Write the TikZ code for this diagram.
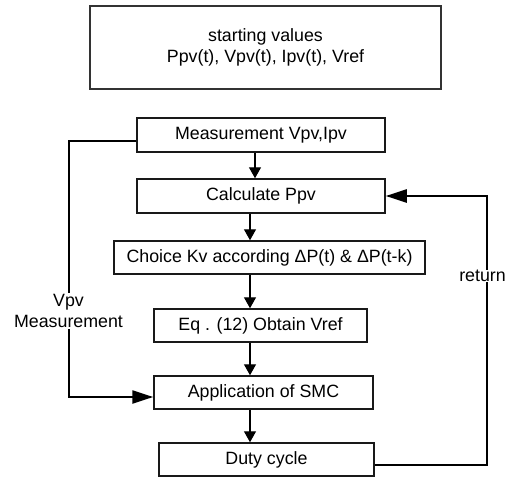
\documentclass[tikz,border=0pt]{standalone}
\usepackage{fontspec}
\setmainfont{Liberation Sans}
\usetikzlibrary{arrows.meta}
\begin{document}
\begin{tikzpicture}[x=1pt,y=-1pt,
  font=\fontsize{17.8pt}{20.5pt}\selectfont,
  box/.style={draw=black!90, line width=1.5pt, rectangle, inner sep=0pt, align=center},
  topbox/.style={draw=black!80, line width=2.2pt, rectangle, inner sep=0pt, align=center},
  arr/.style={line width=1.4pt, -{Triangle[length=11pt,width=12pt]}},
  bigarr/.style={line width=2.3pt, -{Triangle[length=21pt,width=13pt]}},
  lbl/.style={fill=white, inner sep=2pt, align=center}]
\useasboundingbox (0,0) rectangle (507,477);
\node[topbox, minimum width=351pt, minimum height=83pt] (start) at (265.5,47.5)
  {starting values\\Ppv(t), Vpv(t), Ipv(t), Vref};
\node[box, minimum width=248pt, minimum height=34pt] (meas) at (261,135) {Measurement Vpv,Ipv};
\node[box, minimum width=248pt, minimum height=34pt] (calc) at (261,196) {Calculate Ppv};
\node[box, minimum width=311pt, minimum height=33pt] (choice) at (269.5,257.5) {Choice Kv according ΔP(t) \& ΔP(t-k)};
\node[box, minimum width=213pt, minimum height=33pt] (eq) at (260.5,325.5) {Eq . (12) Obtain Vref};
\node[box, minimum width=219pt, minimum height=33pt] (app) at (263.5,392.5) {Application of SMC};
\node[box, minimum width=215pt, minimum height=33pt] (duty) at (266.5,459.5) {Duty cycle};
\coordinate (a1) at (255,0);
\coordinate (a2) at (250,0);
\coordinate (lx) at (69,0);
\coordinate (rx) at (487,0);
\draw[arr] (meas.south -| a1) -- (calc.north -| a1);
\draw[arr] (calc.south -| a2) -- (choice.north -| a2);
\draw[arr] (choice.south -| a2) -- (eq.north -| a2);
\draw[arr] (eq.south -| a2) -- (app.north -| a2);
\draw[arr] (app.south -| a2) -- (duty.north -| a2);
\draw[bigarr] ([yshift=-6pt]meas.west) -| ([yshift=-4.5pt]app.west -| lx) -- ([yshift=-4.5pt]app.west);
\node[lbl] (vlab) at (68.5,311) {Vpv\\Measurement};
\draw[bigarr] ([yshift=-5.5pt]duty.east) -| (calc.east -| rx) -- (calc.east);
\node[lbl, inner ysep=0pt] (rlab) at (482.5,276) {return};
\end{tikzpicture}
\end{document}
